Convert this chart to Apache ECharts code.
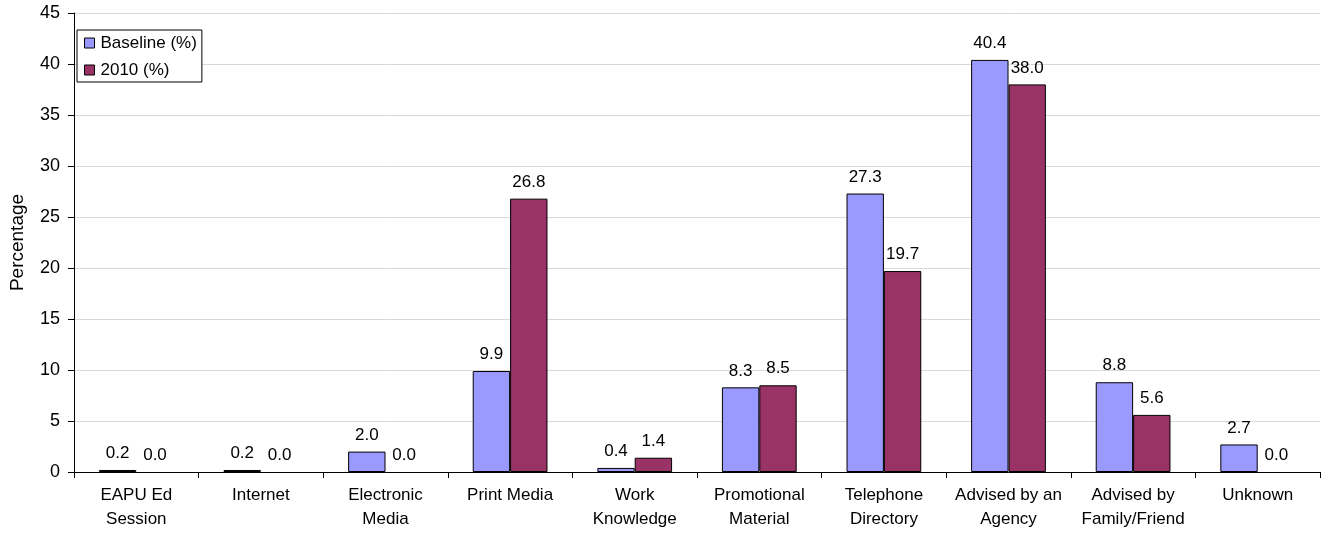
<!DOCTYPE html>
<html>
<head>
<meta charset="utf-8">
<script src="https://cdn.jsdelivr.net/npm/echarts@6/dist/echarts.min.js"></script>
<style>
  html, body { margin: 0; padding: 0; background: #fff; }
  #chart { width: 1325px; height: 533px; }
</style>
</head>
<body>
<div id="chart"></div>
<script>
// Sources of referral, baseline vs 2010
const categories = [
  'EAPU Ed\nSession', 'Internet', 'Electronic\nMedia', 'Print Media', 'Work\nKnowledge',
  'Promotional\nMaterial', 'Telephone\nDirectory', 'Advised by an\nAgency', 'Advised by\nFamily/Friend', 'Unknown'
];
const baseline = [0.2, 0.2, 2.0, 9.9, 0.4, 8.3, 27.3, 40.4, 8.8, 2.7];
const year2010 = [0.0, 0.0, 0.0, 26.8, 1.4, 8.5, 19.7, 38.0, 5.6, 0.0];
const seriesNames = ['Baseline (%)', '2010 (%)'];

const font = 'Liberation Sans, Arial, sans-serif';
const chart = echarts.init(document.getElementById('chart'));

const labelCfg = {
  show: true,
  position: 'top',
  distance: 8,
  color: '#000',
  fontFamily: font,
  fontSize: 17,
  formatter: p => p.value.toFixed(1)
};

// zero-height bars get no outline so only their value label shows
const toBarData = vals => vals.map(v => v === 0 ? { value: v, itemStyle: { borderWidth: 0 } } : v);

chart.setOption({
  animation: false,
  backgroundColor: '#fff',
  grid: { left: 73, right: 5, top: 13, bottom: 61, containLabel: false },
  legend: {
    left: 77, top: 30,
    orient: 'vertical',
    backgroundColor: '#fff',
    borderColor: '#000', borderWidth: 1,
    padding: [3, 5, 2, 7],
    itemGap: 7,
    itemWidth: 10, itemHeight: 10,
    textStyle: { fontFamily: font, fontSize: 17, lineHeight: 20, color: '#000', padding: [0, 0, 0, 1] },
    data: seriesNames.map(n => ({ name: n, icon: 'rect', itemStyle: { borderColor: '#000', borderWidth: 1 } }))
  },
  xAxis: {
    type: 'category',
    data: categories,
    axisLine: { lineStyle: { color: '#000' } },
    axisTick: { show: true, length: 6, lineStyle: { color: '#000' } },
    axisLabel: { color: '#000', fontFamily: font, fontSize: 17, lineHeight: 24, margin: 11, interval: 0 }
  },
  yAxis: {
    type: 'value',
    min: 0, max: 45, interval: 5,
    name: 'Percentage',
    nameLocation: 'middle',
    nameGap: 47,
    nameTextStyle: { color: '#000', fontFamily: font, fontSize: 19 },
    axisLine: { show: true, lineStyle: { color: '#000' } },
    axisTick: { show: true, length: 6, lineStyle: { color: '#000' } },
    axisLabel: { color: '#000', fontFamily: font, fontSize: 18, margin: 14 },
    splitLine: { lineStyle: { color: '#d9d9d9', width: 1 } }
  },
  series: [
    {
      name: seriesNames[0], type: 'bar', data: toBarData(baseline),
      barGap: '0%', barCategoryGap: '40%',
      itemStyle: { color: '#9999ff', borderColor: '#000', borderWidth: 1 },
      label: labelCfg
    },
    {
      name: seriesNames[1], type: 'bar', data: toBarData(year2010),
      barGap: '0%', barCategoryGap: '40%',
      itemStyle: { color: '#993366', borderColor: '#000', borderWidth: 1 },
      label: labelCfg
    }
  ]
});
</script>
</body>
</html>
